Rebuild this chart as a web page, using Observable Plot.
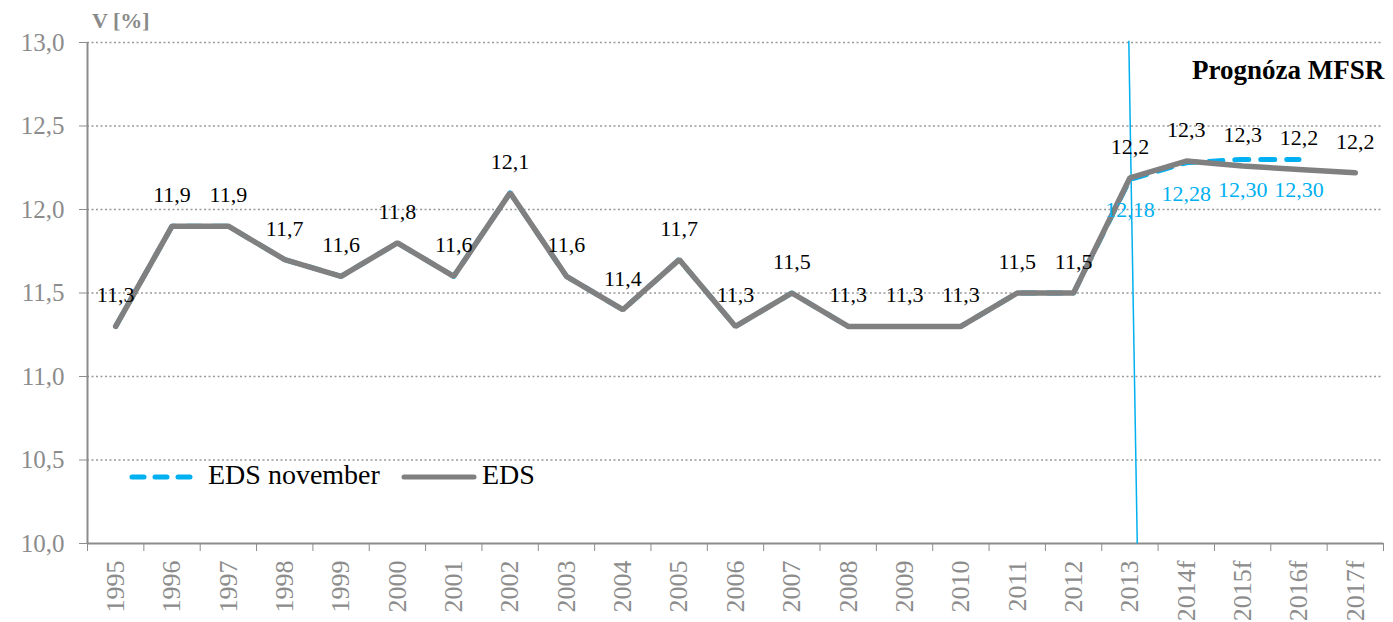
<!DOCTYPE html>
<html>
<head>
<meta charset="utf-8">
<script src="https://cdn.jsdelivr.net/npm/d3@7"></script>
<script src="https://cdn.jsdelivr.net/npm/@observablehq/plot@0.6"></script>
<style>
  html, body { margin: 0; padding: 0; background: #fff; }
  #wrap { position: relative; width: 1393px; height: 622px; font-family: "Liberation Serif", serif; }
  .abs { position: absolute; font-family: "Liberation Serif", "Times New Roman", serif; white-space: nowrap; }
  #vlabel { left: 92px; top: 8px; font-size: 22px; font-weight: bold; color: #8a8a8a; }
  #prog { left: 1192px; top: 55px; font-size: 27px; font-weight: bold; color: #000; }
  .leg { font-size: 28px; color: #000; top: 459px; }
</style>
</head>
<body>
<div id="wrap">
  <div id="chart"></div>
  <div id="vlabel" class="abs">V [%]</div>
  <div id="prog" class="abs">Prognóza MFSR</div>
  <svg class="abs" style="left:128px; top:467px" width="72" height="20"><line x1="4" y1="10" x2="66" y2="10" stroke="#00b0f0" stroke-width="5" stroke-linecap="round" stroke-dasharray="12,11"/></svg>
  <div class="abs leg" style="left:208px">EDS november</div>
  <svg class="abs" style="left:401px; top:467px" width="78" height="20"><line x1="3" y1="10" x2="73" y2="10" stroke="#808080" stroke-width="5" stroke-linecap="round"/></svg>
  <div class="abs leg" style="left:482px">EDS</div>
</div>
<script>
const categories = ["1995","1996","1997","1998","1999","2000","2001","2002","2003","2004","2005","2006","2007","2008","2009","2010","2011","2012","2013","2014f","2015f","2016f","2017f"];
const eds = [11.3,11.9,11.9,11.7,11.6,11.8,11.6,12.1,11.6,11.4,11.7,11.3,11.5,11.3,11.3,11.3,11.5,11.5,12.19,12.29,12.26,12.24,12.22];
const edsNovember = [11.3,11.9,11.9,11.7,11.6,11.8,11.6,12.1,11.6,11.4,11.7,11.3,11.5,11.3,11.3,11.3,11.5,11.5,12.18,12.28,12.30,12.30,null];
const novemberLabelFrom = "2013";
const yTicks = [10,10.5,11,11.5,12,12.5,13];
const forecastLineX = [17.98, 18.13];
const forecastLineY = [13.01, 10];

const comma = (v, p) => d3.format("." + p + "f")(v).replace(".", ",");
const edsData = eds.map((v, i) => ({i, v}));
const novData = edsNovember.map((v, i) => ({i, v})).filter(d => d.v != null);
const novLabels = novData.filter(d => d.i >= categories.indexOf(novemberLabelFrom));
const boundaries = d3.range(categories.length + 1).map(k => k - 0.5);

const grey = "#808080";
const axisGrey = "#8c8c8c";
const blue = "#00b0f0";

const chart = Plot.plot({
  width: 1393,
  height: 622,
  marginLeft: 87,
  marginRight: 10,
  marginTop: 42,
  marginBottom: 79,
  style: {fontFamily: "Liberation Serif, serif", background: "#fff"},
  x: {type: "linear", domain: [-0.5, categories.length - 0.5]},
  y: {domain: [10, 13]},
  marks: [
    Plot.gridY(yTicks.filter(t => t > 10), {stroke: "#999", strokeOpacity: 1, strokeWidth: 1.3, strokeDasharray: "2,2.5"}),
    Plot.axisY(yTicks, {tickFormat: d => comma(d, 1), tickSize: 8, tickPadding: 15, fontSize: 25, color: axisGrey, label: null}),
    Plot.axisX(boundaries, {tickFormat: () => "", tickSize: 8, color: axisGrey, label: null}),
    Plot.axisX(d3.range(categories.length), {tickFormat: i => categories[i], tickSize: 0, tickPadding: 17, tickRotate: -90, fontSize: 26, color: axisGrey, label: null}),
    Plot.ruleX([-0.5], {stroke: axisGrey, strokeWidth: 2}),
    Plot.ruleY([10], {stroke: axisGrey, strokeWidth: 2}),
    Plot.link([0], {x1: () => forecastLineX[0], x2: () => forecastLineX[1], y1: () => forecastLineY[0], y2: () => forecastLineY[1], stroke: blue, strokeWidth: 1.5}),
    Plot.line(novData, {x: "i", y: "v", stroke: blue, strokeWidth: 5, strokeDasharray: "14,12", strokeLinecap: "round"}),
    Plot.line(edsData, {x: "i", y: "v", stroke: grey, strokeWidth: 5.5, strokeLinejoin: "miter", strokeLinecap: "round"}),
    Plot.text(edsData, {x: "i", y: "v", text: d => comma(d.v, 1), dy: -31, fontSize: 22, fill: "#000"}),
    Plot.text(novLabels, {x: "i", y: "v", text: d => comma(d.v, 2), dy: 31, fontSize: 22, fill: blue})
  ]
});
document.getElementById("chart").appendChild(chart);
</script>
</body>
</html>
